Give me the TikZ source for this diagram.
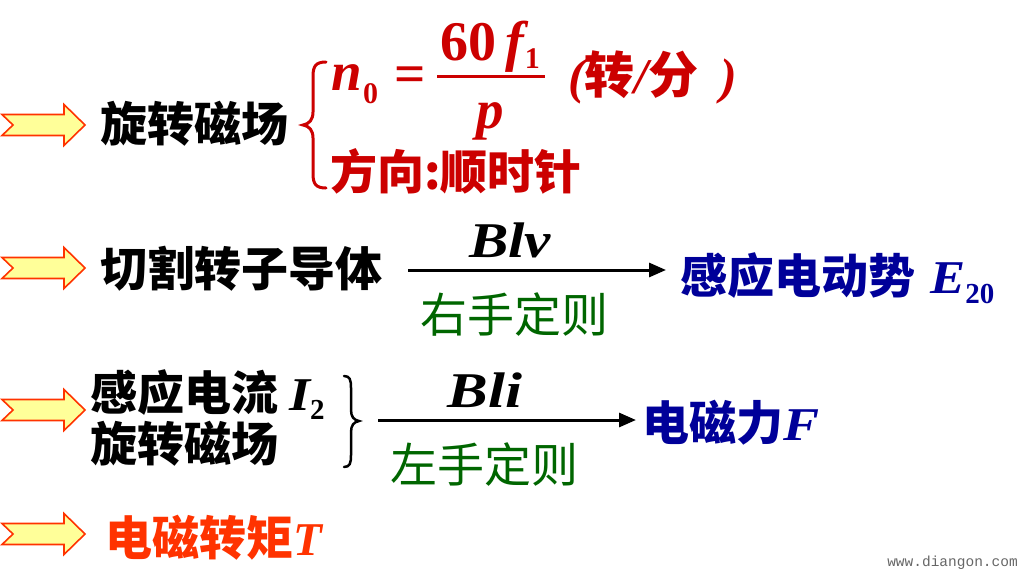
\documentclass[tikz,border=0pt]{standalone}
\usepackage{fontspec}
\setmainfont{Liberation Serif}
\newfontfamily\cjk{Noto Sans CJK SC}
\newfontfamily\wmfont{Liberation Mono}
\usetikzlibrary{arrows.meta}
\definecolor{fred}{HTML}{CC0000}
\definecolor{ored}{HTML}{FF3300}
\definecolor{fblue}{HTML}{000099}
\definecolor{fgreen}{HTML}{006600}
\definecolor{afill}{HTML}{FFFF99}
\newcommand\zhb[1]{{\cjk\bfseries #1}}
\newcommand\zhr[1]{{\cjk #1}}
\newcommand\lbi[1]{{\bfseries\itshape #1}}
\newcommand\fsz[1]{\fontsize{#1}{#1}\selectfont}
\tikzset{
  txt/.style={inner sep=0pt, anchor=base west},
  lbl/.style={inner sep=0pt, anchor=base},
  flow/.style={line width=3pt, -{Triangle[length=17pt,width=14pt]}},
  blockarrow/.pic={
    \draw[line width=1.6pt, draw=ored, fill=afill, line join=miter]
      (2,-10.5) -- (64,-10.5) -- (64,-20.5) -- (85,0) -- (64,20.5)
      -- (64,10.5) -- (2,10.5) -- (13,0) -- cycle;
  }
}
\begin{document}
\begin{tikzpicture}[x=1pt,y=-1pt]
\useasboundingbox (0,0) rectangle (1024,573);

% block arrows
\pic (ba1) at (0,125) {blockarrow};
\pic (ba2) at (0,268) {blockarrow};
\pic (ba3) at (0,410) {blockarrow};
\pic (ba4) at (0,534) {blockarrow};

% ---- row 1
\node[txt] (r1) at (100,141) {\fsz{47}\zhb{旋转磁场}};
\draw[fred, line width=3pt, line cap=round]
  (326,62) .. controls (316,62) and (313,66) .. (313,76) -- (313,112)
  .. controls (313,120) and (309,124) .. (303,125)
  .. controls (309,126) and (313,130) .. (313,138) -- (313,174)
  .. controls (313,184) and (316,188) .. (326,188);
\node[txt, text=fred] (n) at (331,90) {\fsz{55}\lbi{n}};
\node[txt, text=fred] (n0) at (363,103) {\fsz{30}\bfseries 0};
\node[text=fred, inner sep=0pt] (eq) at (410,80) {\fsz{55}\bfseries =};
\node[txt, text=fred] (num) at (440,60) {\fsz{56}\bfseries 60\hspace{9pt}\lbi{f}\kern1pt\raisebox{-8pt}{\fsz{30}\bfseries 1}};
\draw[fred, line width=3pt] (437,76) -- (545,76);
\node[txt, text=fred] (p) at (476,128) {\fsz{55}\lbi{p}};
\node[txt, text=fred] (unit) at (568,93) {\fsz{50}\lbi{(}\zhb{转}\lbi{/}\zhb{分}\hspace{22pt}\lbi{)}};
\node[txt, text=fred] (dir) at (330,189) {\fsz{47}\zhb{方向:顺时针}};

% ---- row 2
\node[txt] (r2) at (100,286) {\fsz{47}\zhb{切割转子导体}};
\coordinate (a2s) at (408,270);
\coordinate (a2e) at (666,270);
\draw[flow] (a2s) -- (a2e);
\node[lbl] (blv) at (510,257) {\fsz{50}\scalebox{1.18}[1]{\lbi{Blv}}};
\node[txt, text=fgreen] (rh) at (420,332) {\fsz{47}\zhr{右手定则}};
\node[txt, text=fblue] (emf) at (680,293) {\fsz{47}\zhb{感应电动势}\hspace{15pt}\scalebox{1.12}[1]{\lbi{E}}\raisebox{-10pt}{\fsz{29}\bfseries 20}};

% ---- row 3
\node[txt] (r3a) at (90,410) {\fsz{47}\zhb{感应电流}\hspace{11pt}\scalebox{1.15}[1]{\lbi{I}}\raisebox{-9pt}{\fsz{29}\bfseries 2}};
\node[txt] (r3b) at (90,461) {\fsz{47}\zhb{旋转磁场}};
\draw[line width=2.5pt, line cap=round]
  (344,376) .. controls (350,376) and (351,380) .. (351,388) -- (351,410)
  .. controls (351,417) and (354,420) .. (359,421)
  .. controls (354,422) and (351,425) .. (351,432) -- (351,455)
  .. controls (351,463) and (350,467) .. (344,467);
\coordinate (a3s) at (378,420);
\coordinate (a3e) at (636,420);
\draw[flow] (a3s) -- (a3e);
\node[lbl] (bli) at (485,407) {\fsz{50}\scalebox{1.22}[1]{\lbi{Bli}}};
\node[txt, text=fgreen] (lh) at (390,482) {\fsz{47}\zhr{左手定则}};
\node[txt, text=fblue] (force) at (642,440) {\fsz{47}\zhb{电磁力}\scalebox{1.15}[1]{\lbi{F}}};

% ---- row 4
\node[txt, text=ored] (torque) at (105,555) {\fsz{47}\zhb{电磁转矩}\lbi{T}};

% watermark
\node[inner sep=0pt, anchor=base east, text=black!60] (wm) at (1018,566) {\wmfont\fsz{14.5}www.diangon.com};
\end{tikzpicture}
\end{document}
